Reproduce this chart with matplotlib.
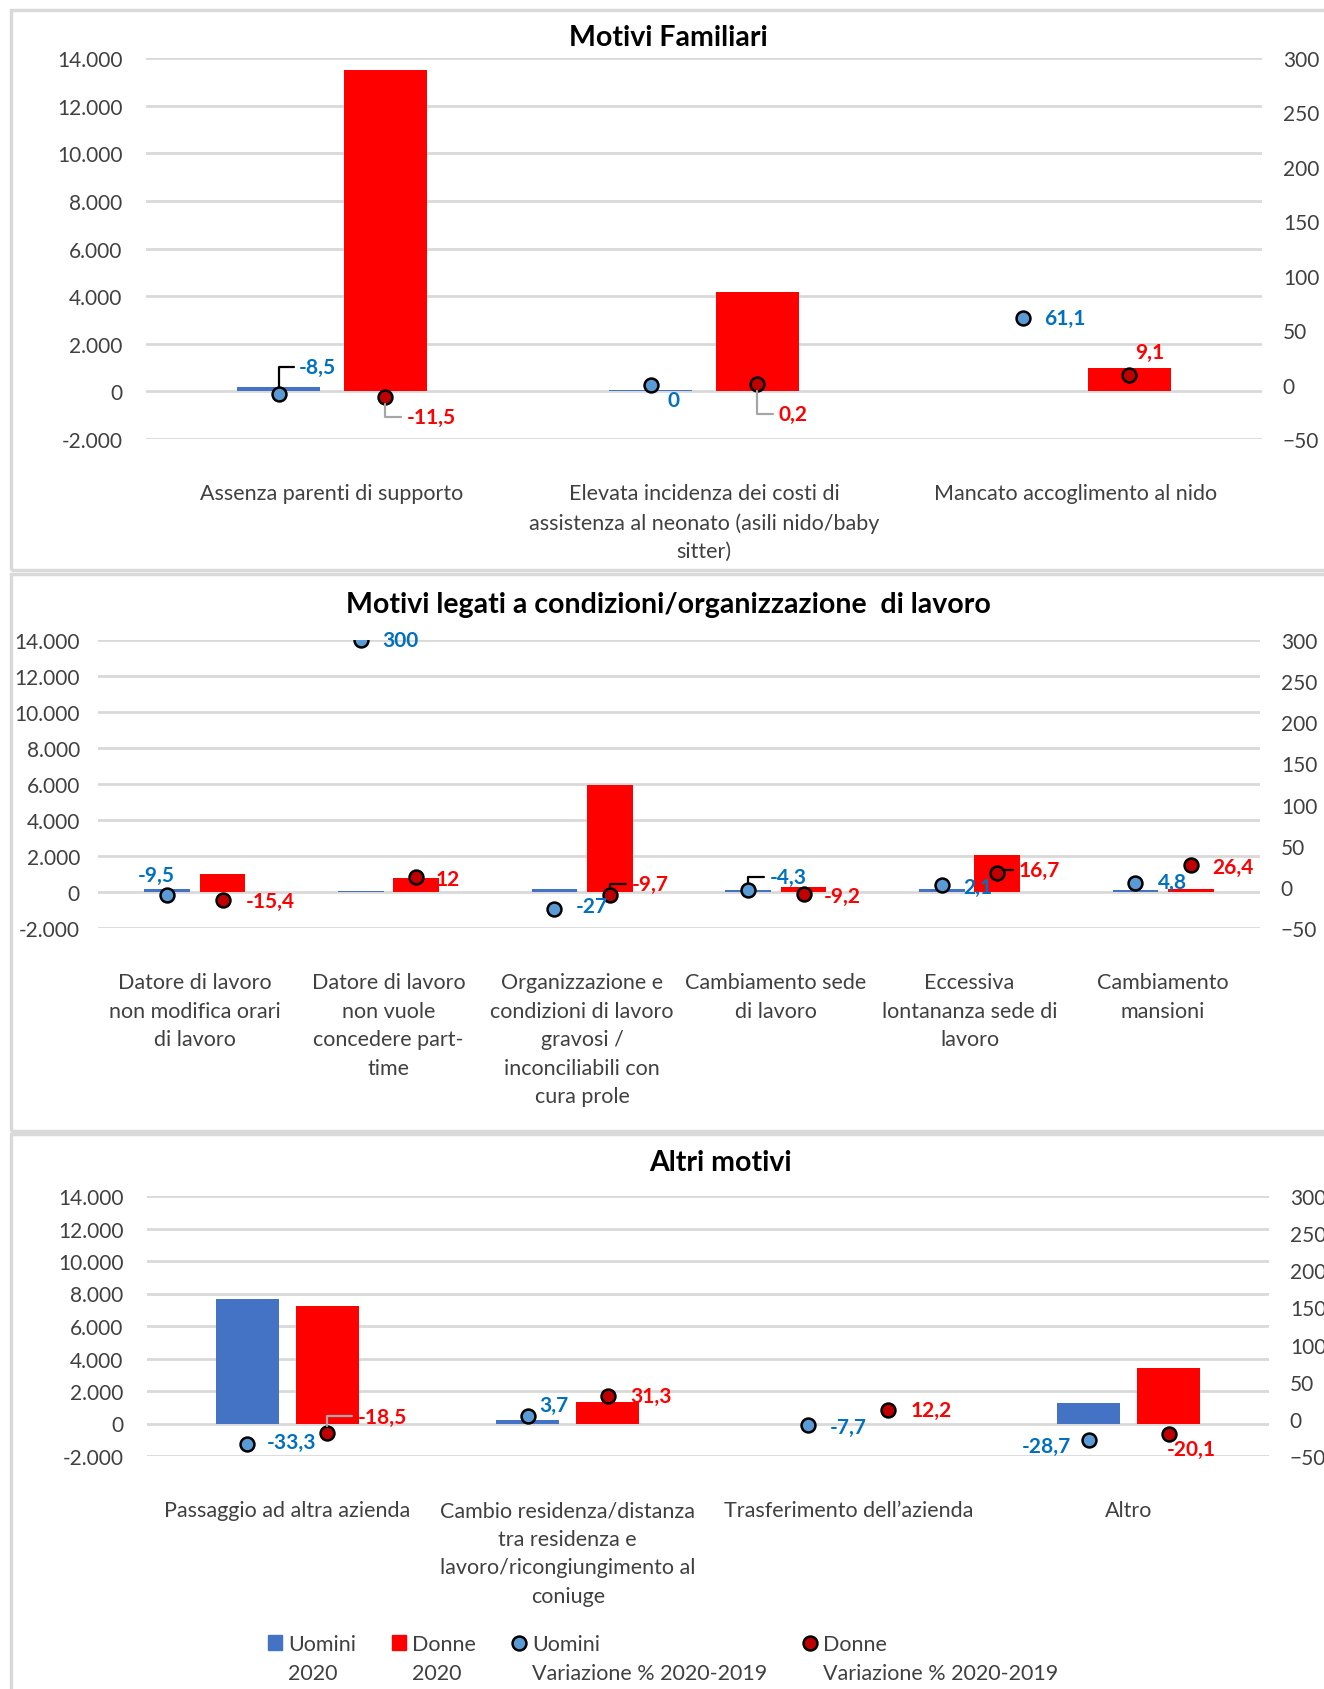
import numpy as np
import matplotlib.pyplot as plt
from matplotlib.lines import Line2D
from matplotlib.patches import Patch, Rectangle
from matplotlib.ticker import FuncFormatter

plt.rcParams['font.family'] = ['Lato', 'DejaVu Sans']

# --- data ---
fam_labels = ["Assenza parenti di supporto",
              "Elevata incidenza dei costi di\nassistenza al neonato (asili nido/baby\nsitter)",
              "Mancato accoglimento al nido"]
fam_uomini = [200, 70, 0]
fam_donne = [13500, 4180, 1000]
fam_var_uomini = [-8.5, 0, 61.1]
fam_var_donne = [-11.5, 0.2, 9.1]

lav_labels = ["Datore di lavoro\nnon modifica orari\ndi lavoro",
              "Datore di lavoro\nnon vuole\nconcedere part-\ntime",
              "Organizzazione e\ncondizioni di lavoro\ngravosi /\ninconciliabili con\ncura prole",
              "Cambiamento sede\ndi lavoro",
              "Eccessiva\nlontananza sede di\nlavoro",
              "Cambiamento\nmansioni"]
lav_uomini = [140, 80, 150, 120, 150, 100]
lav_donne = [1000, 780, 5930, 300, 2050, 180]
lav_var_uomini = [-9.5, 300, -27, -4.3, 2.1, 4.8]
lav_var_donne = [-15.4, 12, -9.7, -9.2, 16.7, 26.4]

altri_labels = ["Passaggio ad altra azienda",
                "Cambio residenza/distanza\ntra residenza e\nlavoro/ricongiungimento al\nconiuge",
                "Trasferimento dell’azienda",
                "Altro"]
altri_uomini = [7650, 220, 0, 1260]
altri_donne = [7260, 1330, 0, 3420]
altri_var_uomini = [-33.3, 3.7, -7.7, -28.7]
altri_var_donne = [-18.5, 31.3, 12.2, -20.1]

# label placement (offset in points, ha, leader colour or None)
fam_lab_u = [(14.7, 19, 'left', 'black'), (12, -11, 'left', None), (15.5, 0, 'left', None)]
fam_lab_d = [(15.5, -14, 'left', '#A6A6A6'), (15.5, -21, 'left', '#A6A6A6'), (4, 16, 'left', None)]
lav_lab_u = [(-21, 14, 'left', None), (15.5, 0, 'left', None), (15.5, 2, 'left', None),
             (15.5, 10, 'left', 'black'), (15.5, -1, 'left', None), (16, 1, 'left', None)]
lav_lab_d = [(17, -1, 'left', None), (14, -1.5, 'left', None), (15.5, 8, 'left', 'black'),
             (14.7, -1, 'left', None), (15.5, 2.5, 'left', 'black'), (15.5, -1, 'left', None)]
altri_lab_u = [(14, 1, 'left', None), (8.5, 8, 'left', None), (15.5, -1.5, 'left', None),
               (-12.4, -4, 'right', None)]
altri_lab_d = [(22, 11.6, 'left', '#A6A6A6'), (16, 0, 'left', None), (16, 0, 'left', None),
               (-1.5, -11, 'left', None)]

BLUE = '#4472C4'
RED = '#FF0000'
DOT_U = '#5B9BD5'
DOT_D = '#C00000'
TXT_U = '#0070C0'
TXT_D = '#FF0000'
GRID = '#D9D9D9'
TICK = '#404040'

W, H = 1324, 1690
fig = plt.figure(figsize=(W / 100, H / 100), dpi=100)


def fmt_thousands(v, pos):
    return f"{int(v):,}".replace(',', '.')


def fmt_var(v):
    return f"{v:g}".replace('.', ',')


def panel(px_rect, labels, uomini, donne, var_u, var_d, lab_u, lab_d, width, lpad, rpad):
    l, t, r, b = px_rect
    ax = fig.add_axes([l / W, 1 - b / H, (r - l) / W, (b - t) / H])
    x = np.arange(len(labels))
    off = 0.143
    ax.bar(x - off, uomini, width, color=BLUE, zorder=2)
    ax.bar(x + off, donne, width, color=RED, zorder=2)
    ax.set_xlim(-0.5, len(labels) - 0.5)
    ax.set_ylim(-2000, 14000)
    ax.set_yticks(np.arange(-2000, 14001, 2000))
    ax.yaxis.set_major_formatter(FuncFormatter(fmt_thousands))
    ax.grid(axis='y', color=GRID, lw=2, zorder=0)
    ax.set_axisbelow(True)
    for s in ax.spines.values():
        s.set_visible(False)
    ax.set_xticks(x)
    ax.set_xticklabels(labels, fontsize=15.5, color=TICK, linespacing=1.53)
    ax.tick_params(axis='x', length=0, pad=32)
    ax.tick_params(axis='y', length=0, pad=lpad, labelsize=15, labelcolor=TICK)

    ax2 = ax.twinx()
    ax2.set_ylim(-50, 300)
    ax2.set_yticks(np.arange(-50, 301, 50))
    for s in ax2.spines.values():
        s.set_visible(False)
    ax2.tick_params(axis='y', length=0, pad=rpad, labelsize=15, labelcolor=TICK)
    ax2.plot(x - off, var_u, 'o', ms=10, mfc=DOT_U, mec='black', mew=1.8, zorder=5)
    ax2.plot(x + off, var_d, 'o', ms=10, mfc=DOT_D, mec='black', mew=1.8, zorder=5)

    for xs, vals, labs, col in [(x - off, var_u, lab_u, TXT_U), (x + off, var_d, lab_d, TXT_D)]:
        for xi, v, (dx, dy, ha, lead) in zip(xs, vals, labs):
            kw = {}
            if lead is not None:
                kw['arrowprops'] = dict(arrowstyle='-', color=lead, lw=1.6, shrinkA=2, shrinkB=5,
                                        relpos=(0, 0.5),
                                        connectionstyle='angle,angleA=0,angleB=90,rad=0')
            ax2.annotate(fmt_var(v), xy=(xi, v), xytext=(dx, dy), textcoords='offset points',
                         ha=ha, va='center', fontsize=15, fontweight='bold', color=col,
                         zorder=6, **kw)
    return ax


panel((146, 59, 1262, 440), fam_labels, fam_uomini, fam_donne, fam_var_uomini, fam_var_donne,
      fam_lab_u, fam_lab_d, 0.223, 17, 15)
panel((98, 641, 1260, 929), lav_labels, lav_uomini, lav_donne, lav_var_uomini, lav_var_donne,
      lav_lab_u, lav_lab_d, 0.235, 13, 15)
ax3 = panel((147, 1197, 1269, 1457), altri_labels, altri_uomini, altri_donne, altri_var_uomini,
            altri_var_donne, altri_lab_u, altri_lab_d, 0.225, 17, 15)

# titles
fig.text(668 / W, 1 - 38 / H, "Motivi Familiari", ha='center', va='center',
         fontsize=20.5, fontweight='bold')
fig.text(668 / W, 1 - 605 / H, "Motivi legati a condizioni/organizzazione  di lavoro",
         ha='center', va='center', fontsize=20.5, fontweight='bold')
fig.text(720 / W, 1 - 1163 / H, "Altri motivi", ha='center', va='center',
         fontsize=20.5, fontweight='bold')

# panel frames
for top, bot in [(11, 571), (575, 1132), (1135, 1700)]:
    fig.patches.append(Rectangle((11 / W, 1 - bot / H), 1.1, (bot - top) / H,
                                 transform=fig.transFigure, fill=False, ec=GRID, lw=2.5))

# legend (two text rows per entry)
blank = Line2D([], [], ls='none')
handles = [Patch(color=BLUE), blank,
           Patch(color=RED), blank,
           Line2D([], [], ls='none', marker='o', ms=10, mfc=DOT_U, mec='black', mew=1.8), blank,
           Line2D([], [], ls='none', marker='o', ms=10, mfc=DOT_D, mec='black', mew=1.8), blank]
texts = ["Uomini", "2020", "Donne", "2020", "Uomini", "Variazione % 2020-2019",
         "Donne", "Variazione % 2020-2019"]
fig.legend(handles, texts, ncol=4, loc='upper left', bbox_to_anchor=(268 / W, 1 - 1635 / H),
           frameon=False, fontsize=15.5, labelcolor=TICK, handlelength=0.65, handleheight=0.65,
           handletextpad=0.3, columnspacing=1.65, labelspacing=0.42, borderpad=0,
           borderaxespad=0)

fig.savefig('out.png', dpi=100)
